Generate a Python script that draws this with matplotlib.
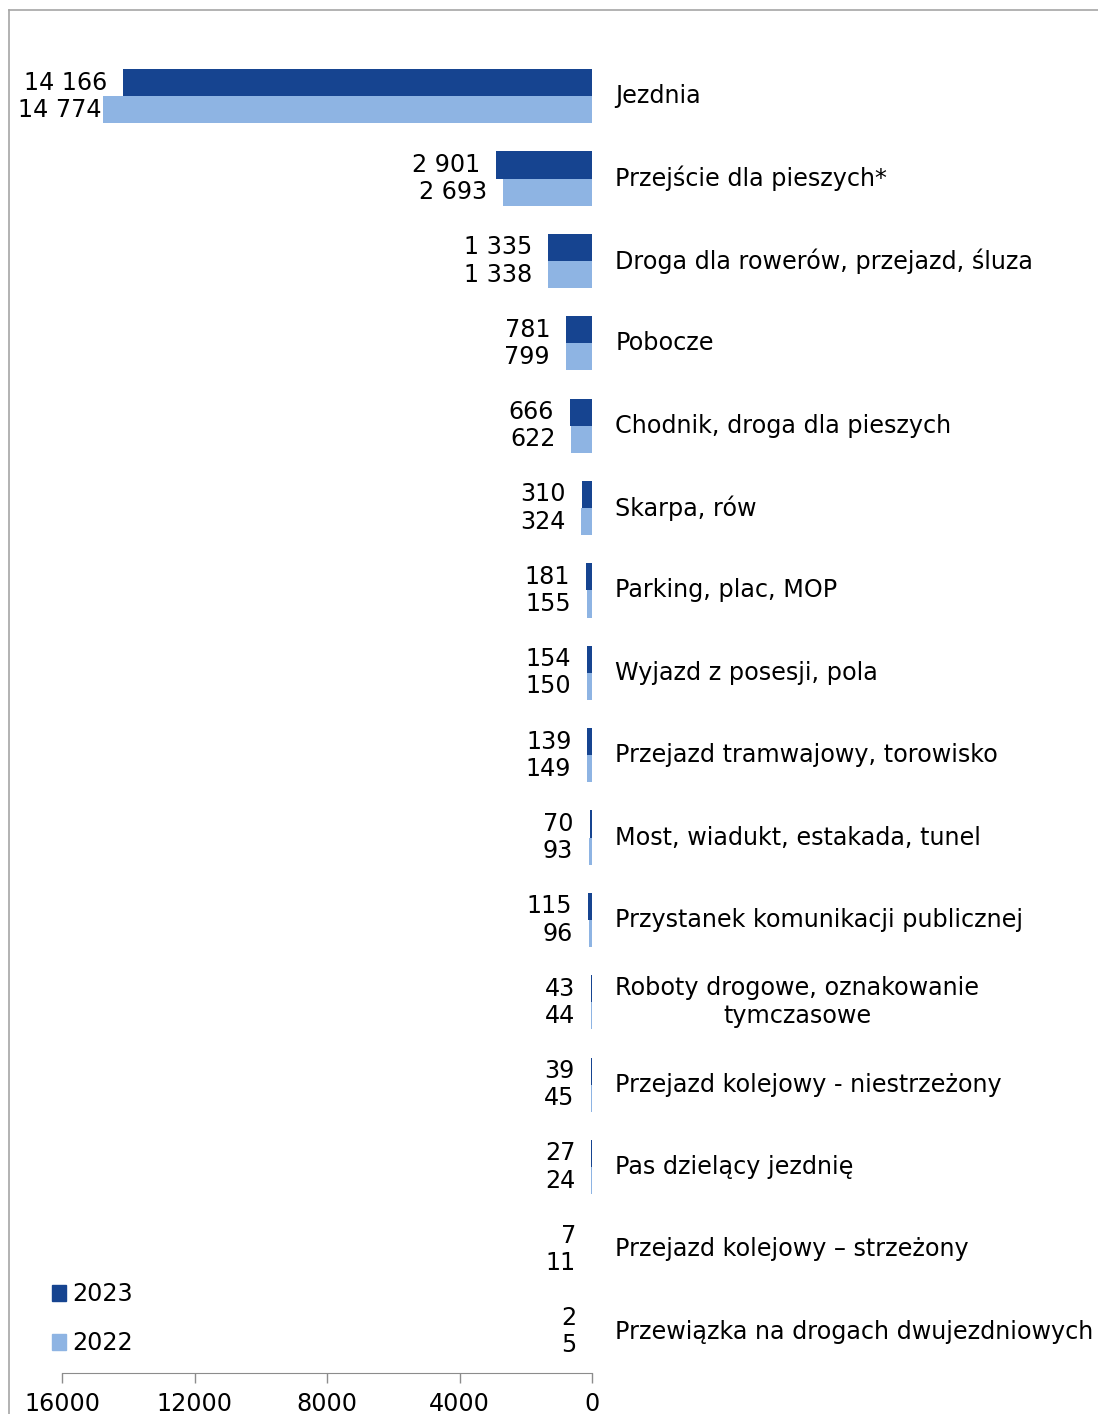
import matplotlib.pyplot as plt
import numpy as np
from matplotlib.patches import Patch
from matplotlib.lines import Line2D

plt.rcParams['font.family'] = ['DejaVu Sans']

categories = ['Jezdnia', 'Przejście dla pieszych*', 'Droga dla rowerów, przejazd, śluza',
              'Pobocze', 'Chodnik, droga dla pieszych', 'Skarpa, rów', 'Parking, plac, MOP',
              'Wyjazd z posesji, pola', 'Przejazd tramwajowy, torowisko',
              'Most, wiadukt, estakada, tunel', 'Przystanek komunikacji publicznej',
              'Roboty drogowe, oznakowanie\ntymczasowe', 'Przejazd kolejowy - niestrzeżony',
              'Pas dzielący jezdnię', 'Przejazd kolejowy – strzeżony',
              'Przewiązka na drogach dwujezdniowych']
v2023 = [14166, 2901, 1335, 781, 666, 310, 181, 154, 139, 70, 115, 43, 39, 27, 7, 2]
v2022 = [14774, 2693, 1338, 799, 622, 324, 155, 150, 149, 93, 96, 44, 45, 24, 11, 5]
years = ['2023', '2022']
ticks = [16000, 12000, 8000, 4000, 0]

c23 = '#164490'
c22 = '#8EB4E3'
fs = 17.2

def fmt(v):
    return f'{v:,}'.replace(',', ' ')

def lab_x(v):
    # label sits left of bar end, but is kept inside the chart area
    return min(v + 480, 14820)

fig = plt.figure(figsize=(10.98, 14.14), dpi=100)
ax = fig.add_axes([62/1098, 1 - 1373/1414, 530/1098, 1318/1414])

y = np.arange(len(categories))
h = 0.33
ax.barh(y - h/2, v2023, height=h, color=c23)
ax.barh(y + h/2, v2022, height=h, color=c22)

ax.set_xlim(16000, 0)
ax.set_ylim(len(categories) - 0.5, -0.5)
ax.set_xticks(ticks)
ax.set_xticklabels([str(t) for t in ticks], fontsize=fs)
ax.set_yticks([])
for s in ['top', 'left', 'right']:
    ax.spines[s].set_visible(False)
ax.spines['bottom'].set_color('#8c8c8c')
ax.tick_params(axis='x', colors='#8c8c8c', length=7, width=1, labelcolor='black', pad=7)

for i in range(len(categories)):
    ax.text(lab_x(v2023[i]), i - h/2, fmt(v2023[i]), ha='right', va='center', fontsize=fs)
    ax.text(lab_x(v2022[i]), i + h/2, fmt(v2022[i]), ha='right', va='center', fontsize=fs)
    ax.text(-700, i, categories[i], ha='left', va='center', fontsize=fs,
            multialignment='center', clip_on=False)

handles = [Patch(color=c23), Patch(color=c22)]
ax.legend(handles, years, loc='lower left', bbox_to_anchor=(-0.06, -0.003), frameon=False,
          fontsize=fs, handlelength=0.6, handleheight=0.6, handletextpad=0.25,
          labelspacing=1.05)

# outer frame (top and left only)
fig.add_artist(Line2D([9/1098, 1], [1 - 10/1414, 1 - 10/1414], color='#a6a6a6', lw=1.2))
fig.add_artist(Line2D([9/1098, 9/1098], [0, 1 - 10/1414], color='#a6a6a6', lw=1.2))

fig.savefig('out.png', dpi=100)
